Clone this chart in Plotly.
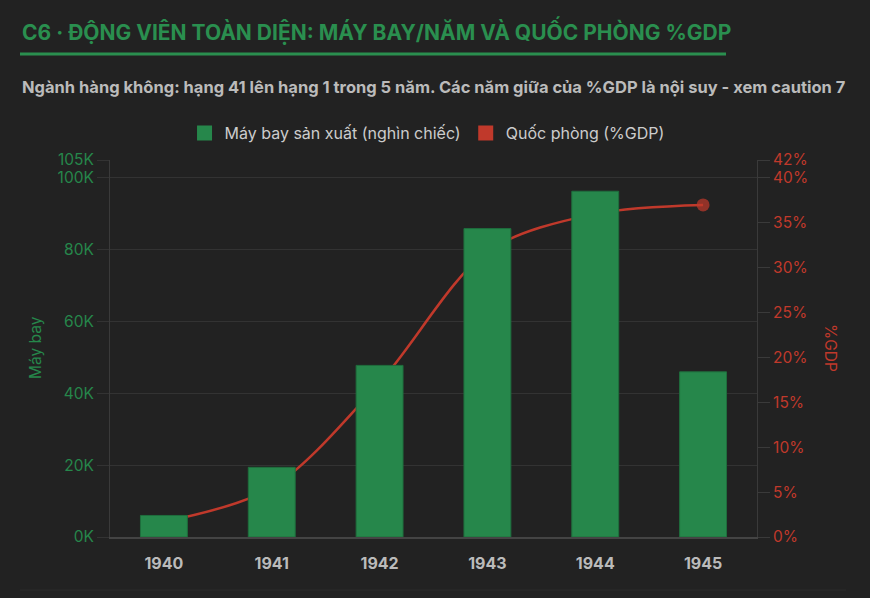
import plotly.graph_objects as go

# data
years = ["1940", "1941", "1942", "1943", "1944", "1945"]
aircraft_k = [6.0, 19.4, 47.8, 85.9, 96.3, 46.0]      # thousand aircraft
defense_pct = [1.7, 5.5, 17.2, 31.8, 36.0, 37.0]      # % GDP (middle years interpolated)

left_ticks = [0, 20, 40, 60, 80, 100, 105]
right_ticks = [0, 5, 10, 15, 20, 25, 30, 35, 40, 42]

title_text = "C6 · ĐỘNG VIÊN TOÀN DIỆN: MÁY BAY/NĂM VÀ QUỐC PHÒNG %GDP"
subtitle_text = ("Ngành hàng không: hạng 41 lên hạng 1 trong 5 năm. "
                 "Các năm giữa của %GDP là nội suy - xem caution 7")
bar_name = "Máy bay sản xuất (nghìn chiếc)"
line_name = "Quốc phòng (%GDP)"

BG = "#222222"
GREEN = "#26874b"
RED = "#c0392b"
GRID = "#333333"
FONT = "Inter"

W, H = 870, 598
L, R, T, B = 110, 757, 160, 537


def px_x(px):
    return (px - L) / (R - L)


def px_y(py):
    return (B - py) / (B - T)


fig = go.Figure()

# line first on the base axis so the bars (overlay axis) are drawn above it
fig.add_trace(go.Scatter(
    x=years, y=defense_pct, yaxis="y", mode="lines+markers",
    line=dict(color=RED, width=2.5, shape="spline", smoothing=0.9),
    marker=dict(color=RED, size=[0, 0, 0, 0, 0, 13], line=dict(width=0)),
    showlegend=False, name=line_name,
))
fig.add_trace(go.Bar(
    x=years, y=aircraft_k, yaxis="y2",
    marker=dict(color=GREEN, line=dict(color="#1f6e3d", width=1)),
    showlegend=False, name=bar_name,
))

# legend swatches
for nm, col in [(bar_name, GREEN), (line_name, RED)]:
    fig.add_trace(go.Scatter(
        x=[None], y=[None], mode="markers", name=nm,
        marker=dict(symbol="square", size=15, color=col, line=dict(width=0)),
    ))

fig.update_layout(
    width=W, height=H,
    paper_bgcolor=BG, plot_bgcolor=BG,
    margin=dict(l=L, r=W - R, t=T, b=H - B, pad=0, autoexpand=False),
    font=dict(family=FONT, color="#cccccc", size=14),
    barmode="overlay", bargap=0.565,
    showlegend=True,
    legend=dict(
        orientation="h", x=0.49, xanchor="center",
        yref="container", y=1 - 133 / H, yanchor="middle",
        font=dict(size=16, color="#cccccc"),
        itemwidth=30, tracegroupgap=0,
        bgcolor="rgba(0,0,0,0)",
    ),
    xaxis=dict(
        type="category", showgrid=False, ticks="",
        showline=True, linecolor="#444444", linewidth=2,
        tickfont=dict(size=16, color="#bbbbbb", weight="bold"),
        ticklabelstandoff=11,
    ),
    yaxis=dict(
        side="right", range=[0, 42],
        tickvals=right_ticks, ticktext=[f"{v}%" for v in right_ticks],
        showgrid=False, zeroline=False,
        ticks="outside", ticklen=12, tickcolor="#3a3a3a",
        showline=True, linecolor="#3a3a3a", linewidth=1,
        tickfont=dict(size=15.5, color=RED),
    ),
    yaxis2=dict(
        overlaying="y", side="left", range=[0, 105],
        tickvals=left_ticks, ticktext=[f"{v}K" for v in left_ticks],
        showgrid=True, gridcolor=GRID, gridwidth=1, zeroline=False,
        ticks="outside", ticklen=12, tickcolor=GRID,
        showline=True, linecolor="#3a3a3a", linewidth=1,
        tickfont=dict(size=15.5, color=GREEN),
    ),
)

annotations = [
    dict(text=title_text, x=px_x(20), y=px_y(31), xanchor="left", yanchor="middle",
         font=dict(size=21, color="#2a8f4f", weight="bold")),
    dict(text=subtitle_text, x=px_x(20), y=px_y(87), xanchor="left", yanchor="middle",
         font=dict(size=16.5, color="#bbbbbb", weight="bold")),
    dict(text="Máy bay", x=px_x(35), y=px_y(348), textangle=-90,
         xanchor="center", yanchor="middle", font=dict(size=15.5, color=GREEN)),
    dict(text="%GDP", x=px_x(831), y=px_y(348), textangle=90,
         xanchor="center", yanchor="middle", font=dict(size=15.5, color=RED)),
]
for a in annotations:
    a.update(xref="paper", yref="paper", showarrow=False)
fig.update_layout(annotations=annotations)

fig.update_layout(shapes=[
    dict(type="line", xref="paper", yref="paper",
         x0=px_x(20), x1=px_x(726), y0=px_y(54), y1=px_y(54),
         line=dict(color="#2a8f4f", width=3)),
    dict(type="line", xref="paper", yref="paper",
         x0=px_x(20), x1=px_x(846), y0=px_y(590), y1=px_y(590),
         line=dict(color="#2b2b2b", width=1)),
])

fig.write_html(
    "out.html",
    config={"displayModeBar": False},
    post_script="document.body.style.margin='0';document.body.style.background='#222222';",
)
